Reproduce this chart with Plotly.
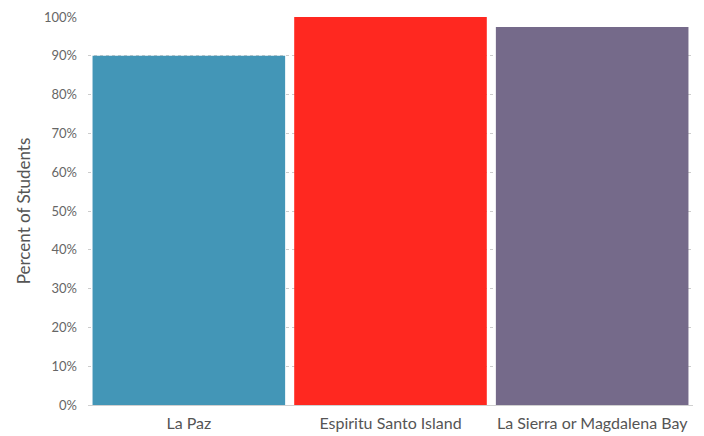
import plotly.graph_objects as go

categories = ["La Paz", "Espiritu Santo Island", "La Sierra or Magdalena Bay"]
values = [90, 100, 97.4]
colors = ["#4396B7", "#FF2820", "#756A8A"]
tick_vals = list(range(0, 101, 10))
tick_text = [f"{v}%" for v in tick_vals]

fig = go.Figure(go.Bar(x=categories, y=values, marker=dict(color=colors, line=dict(width=0)),
                       hoverinfo="skip"))

fig.update_layout(
    width=704, height=436,
    margin=dict(l=88, r=11, t=17, b=31),
    paper_bgcolor="white", plot_bgcolor="white",
    bargap=0.045,
    showlegend=False,
    font=dict(family="Lato, sans-serif", size=12, color="#666666"),
)
fig.update_yaxes(
    range=[0, 100], tickvals=tick_vals, ticktext=tick_text,
    showgrid=True, gridcolor="#CCCCCC", griddash="dot", gridwidth=1,
    zeroline=False, showline=False,
    ticks="", ticklen=0, ticklabelstandoff=10,
    automargin=False,
    title=dict(text="Percent of Students", font=dict(size=17, color="#555555"), standoff=9),
    tickfont=dict(size=13, color="#666666"),
)
fig.update_xaxes(
    showline=True, linecolor="#D0D0D0", linewidth=1,
    ticks="", tickfont=dict(size=16, color="#555555"),
    ticklabelstandoff=4, automargin=False,
)
fig.write_html("out.html", config={"displayModeBar": False},
               post_script="document.body.style.margin='0';")
